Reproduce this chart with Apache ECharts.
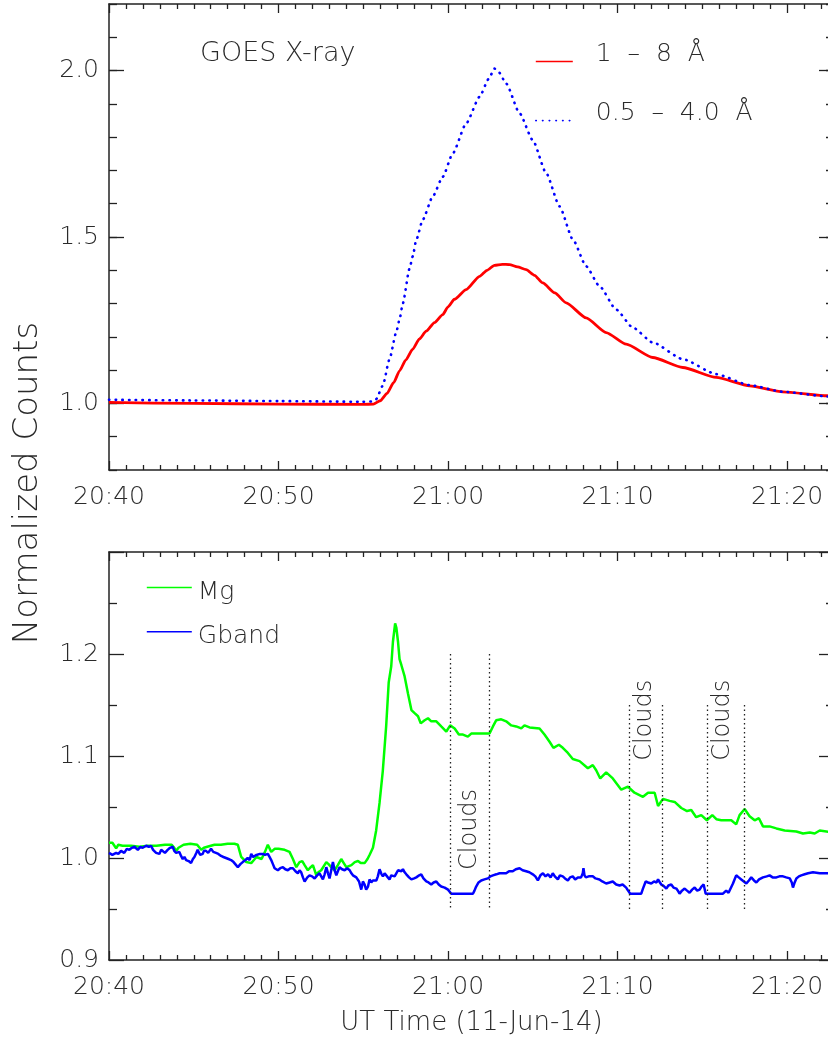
<!DOCTYPE html>
<html>
<head>
<meta charset="utf-8">
<script src="https://cdn.jsdelivr.net/npm/echarts@6/dist/echarts.min.js"></script>
<style>
html,body{margin:0;padding:0;background:#fff;}
#chart{width:828px;height:1040px;}
</style>
</head>
<body>
<div id="chart"></div>
<script>
// ---------- DATA (time in minutes after 20:00 UT) ----------
const xTickLabels = ['20:40', '20:50', '21:00', '21:10', '21:20'];
const topYTickLabels = [1.0, 1.5, 2.0];
const botYTickLabels = [0.9, 1.0, 1.1, 1.2];

// GOES 1-8 A
const goesLongTime = [40, 45, 50, 55, 55.6, 56.0, 56.4, 56.8, 57.14, 57.5, 57.92, 58.3, 58.71, 59.2, 59.69, 60.0, 60.38, 61.07, 61.86, 62.3, 62.74, 63.2, 63.63, 64.1, 64.61, 65.1, 65.59, 66.3, 66.97, 68.15, 69.33, 70.51, 72.08, 73.85, 75.82, 77.79, 79.75, 82.4, 82.77];
const goesLongValues = [1.003, 1.000, 0.998, 0.997, 0.998, 1.008, 1.030, 1.063, 1.098, 1.130, 1.163, 1.193, 1.217, 1.243, 1.267, 1.290, 1.313, 1.342, 1.382, 1.400, 1.415, 1.418, 1.417, 1.410, 1.402, 1.385, 1.362, 1.332, 1.302, 1.257, 1.213, 1.178, 1.138, 1.108, 1.078, 1.053, 1.035, 1.023, 1.022];

// GOES 0.5-4.0 A
const goesShortTime = [40, 45, 50, 55, 55.5, 55.76, 56.15, 56.55, 56.94, 57.14, 57.33, 57.73, 57.92, 58.12, 58.51, 59.10, 59.69, 60.28, 61.07, 61.86, 62.4, 62.74, 63.0, 63.43, 64.22, 65.0, 65.79, 66.58, 67.36, 68.15, 68.94, 69.92, 70.90, 72.08, 73.85, 75.82, 77.79, 79.75, 82.39, 82.77];
const goesShortValues = [1.011, 1.009, 1.007, 1.005, 1.006, 1.013, 1.053, 1.133, 1.213, 1.252, 1.300, 1.405, 1.442, 1.490, 1.552, 1.622, 1.681, 1.751, 1.841, 1.921, 1.975, 2.006, 1.995, 1.961, 1.872, 1.791, 1.692, 1.592, 1.493, 1.412, 1.352, 1.282, 1.228, 1.183, 1.133, 1.088, 1.055, 1.035, 1.021, 1.020];

// Mg
const mgTime = [40.0, 40.2, 40.42, 40.55, 40.8, 41.3, 41.8, 42.3, 42.8, 43.3, 43.7, 43.85, 43.96, 44.1, 44.4, 44.8, 45.2, 45.44, 45.6, 45.8, 46.22, 46.6, 47.0, 47.4, 47.6, 47.7, 47.8, 48.1, 48.39, 48.55, 48.7, 49.0, 49.2, 49.37, 49.57, 49.77, 50.0, 50.36, 50.65, 50.85, 51.05, 51.24, 51.4, 51.54, 51.73, 51.9, 52.03, 52.23, 52.35, 52.52, 52.82, 52.95, 53.11, 53.31, 53.5, 53.7, 53.85, 54.0, 54.3, 54.5, 54.69, 54.85, 55.08, 55.25, 55.37, 55.57, 55.76, 55.96, 56.15, 56.35, 56.5, 56.65, 56.75, 56.88, 56.95, 57.05, 57.14, 57.25, 57.44, 57.64, 57.84, 58.03, 58.23, 58.39, 58.62, 58.82, 59.01, 59.31, 59.6, 59.9, 60.13, 60.39, 60.64, 60.88, 61.17, 61.37, 62.45, 62.65, 62.84, 63.14, 63.43, 63.73, 64.02, 64.32, 64.51, 64.81, 65.4, 65.69, 65.99, 66.22, 66.54, 66.77, 67.07, 67.36, 67.76, 68.25, 68.54, 68.74, 68.98, 69.33, 69.72, 70.22, 70.61, 71.0, 71.5, 71.8, 72.19, 72.39, 72.68, 73.07, 73.37, 73.76, 74.1, 74.35, 74.64, 74.94, 75.27, 75.59, 75.83, 76.12, 76.71, 77.0, 77.2, 77.5, 77.79, 78.09, 78.34, 78.58, 78.97, 79.37, 79.86, 80.55, 80.94, 81.34, 81.63, 81.93, 82.77];
const mgValues = [1.015, 1.015, 1.0095, 1.013, 1.012, 1.012, 1.011, 1.012, 1.012, 1.013, 1.013, 1.010, 1.007, 1.010, 1.013, 1.014, 1.013, 1.008, 1.010, 1.011, 1.013, 1.013, 1.014, 1.014, 1.013, 1.007, 1.001, 0.996, 0.995, 0.998, 1.001, 0.999, 1.006, 1.013, 1.006, 1.009, 1.009, 1.008, 1.006, 0.999, 0.991, 0.996, 0.997, 0.993, 0.988, 0.991, 0.993, 0.983, 0.986, 0.988, 0.996, 0.994, 0.991, 0.988, 0.993, 0.999, 0.995, 0.991, 0.993, 0.996, 0.997, 0.995, 0.995, 0.999, 1.003, 1.010, 1.027, 1.054, 1.085, 1.129, 1.172, 1.188, 1.212, 1.230, 1.226, 1.212, 1.195, 1.189, 1.178, 1.161, 1.145, 1.142, 1.139, 1.132, 1.135, 1.137, 1.134, 1.134, 1.129, 1.124, 1.130, 1.127, 1.121, 1.121, 1.119, 1.122, 1.122, 1.129, 1.135, 1.136, 1.134, 1.130, 1.129, 1.127, 1.130, 1.128, 1.127, 1.121, 1.114, 1.108, 1.111, 1.108, 1.103, 1.097, 1.095, 1.088, 1.091, 1.086, 1.078, 1.084, 1.078, 1.067, 1.070, 1.064, 1.060, 1.064, 1.064, 1.051, 1.058, 1.056, 1.055, 1.049, 1.046, 1.047, 1.040, 1.042, 1.037, 1.042, 1.038, 1.037, 1.037, 1.033, 1.042, 1.048, 1.041, 1.037, 1.039, 1.031, 1.031, 1.029, 1.027, 1.026, 1.024, 1.025, 1.024, 1.027, 1.025];

// Gband
const gbandTime = [40.0, 40.2, 40.42, 40.55, 40.71, 40.9, 41.05, 41.2, 41.35, 41.5, 41.7, 41.85, 41.99, 42.19, 42.35, 42.48, 42.6, 42.78, 42.97, 43.08, 43.17, 43.3, 43.46, 43.6, 43.76, 43.85, 43.96, 44.15, 44.25, 44.35, 44.45, 44.55, 44.7, 44.84, 44.95, 45.04, 45.15, 45.23, 45.38, 45.53, 45.6, 45.72, 45.85, 46.02, 46.15, 46.31, 46.45, 46.61, 46.75, 46.9, 47.05, 47.2, 47.35, 47.5, 47.6, 47.75, 47.89, 48.05, 48.18, 48.3, 48.39, 48.5, 48.58, 48.7, 48.78, 48.9, 49.07, 49.2, 49.37, 49.47, 49.57, 49.67, 49.77, 49.87, 49.96, 50.1, 50.26, 50.4, 50.55, 50.7, 50.85, 51.0, 51.14, 51.24, 51.34, 51.44, 51.54, 51.7, 51.83, 51.98, 52.13, 52.28, 52.42, 52.52, 52.62, 52.72, 52.82, 52.92, 53.01, 53.11, 53.21, 53.31, 53.41, 53.5, 53.6, 53.75, 53.9, 54.05, 54.2, 54.3, 54.39, 54.5, 54.59, 54.75, 54.88, 54.98, 55.08, 55.17, 55.28, 55.37, 55.47, 55.57, 55.67, 55.77, 55.86, 55.96, 56.0, 56.08, 56.16, 56.26, 56.36, 56.45, 56.55, 56.65, 56.75, 56.85, 56.95, 57.05, 57.15, 57.25, 57.34, 57.44, 57.54, 57.7, 57.84, 58.0, 58.13, 58.3, 58.42, 58.55, 58.72, 58.85, 59.01, 59.15, 59.31, 59.45, 59.6, 59.8, 60.0, 60.19, 61.47, 61.56, 61.66, 61.8, 61.96, 62.15, 62.35, 62.5, 62.65, 62.85, 63.04, 63.25, 63.43, 63.6, 63.82, 64.0, 64.22, 64.4, 64.61, 64.8, 65.0, 65.15, 65.3, 65.45, 65.6, 65.75, 65.9, 66.05, 66.18, 66.3, 66.48, 66.6, 66.77, 66.9, 67.07, 67.2, 67.36, 67.5, 67.66, 67.85, 67.95, 67.99, 68.05, 68.13, 68.3, 68.54, 68.7, 68.93, 69.1, 69.33, 69.53, 69.72, 69.92, 70.12, 70.3, 70.51, 70.62, 70.75, 71.4, 71.5, 71.66, 71.8, 71.99, 72.15, 72.3, 72.39, 72.5, 72.58, 72.7, 72.88, 73.0, 73.17, 73.3, 73.47, 73.56, 73.66, 73.8, 73.96, 74.1, 74.25, 74.4, 74.55, 74.7, 74.84, 74.95, 75.08, 75.2, 76.22, 76.3, 76.41, 76.55, 76.65, 76.81, 77.0, 77.15, 77.3, 77.45, 77.6, 77.75, 77.89, 78.05, 78.19, 78.35, 78.58, 78.8, 78.97, 79.15, 79.37, 79.55, 79.76, 79.95, 80.16, 80.28, 80.35, 80.45, 80.55, 80.7, 80.84, 81.04, 81.24, 81.53, 81.93, 82.2, 82.77];
const gbandValues = [1.005, 1.003, 1.005, 1.004, 1.007, 1.005, 1.009, 1.008, 1.010, 1.011, 1.008, 1.011, 1.010, 1.012, 1.011, 1.012, 1.008, 1.005, 1.004, 1.008, 1.009, 1.005, 1.008, 1.010, 1.011, 1.007, 1.005, 1.006, 1.002, 0.999, 1.001, 0.998, 0.997, 0.995, 0.999, 1.001, 1.005, 1.008, 1.003, 1.004, 1.007, 1.007, 1.005, 1.009, 1.006, 1.005, 1.004, 1.002, 1.001, 1.000, 0.999, 0.998, 0.996, 0.993, 0.991, 0.994, 0.996, 0.998, 1.000, 0.998, 1.004, 1.001, 1.000, 1.003, 1.004, 1.004, 1.004, 1.003, 1.004, 1.001, 0.998, 0.994, 0.990, 0.991, 0.988, 0.990, 0.991, 0.989, 0.988, 0.990, 0.990, 0.987, 0.985, 0.988, 0.986, 0.981, 0.977, 0.981, 0.983, 0.982, 0.980, 0.983, 0.985, 0.982, 0.979, 0.984, 0.991, 0.985, 0.980, 0.988, 0.996, 0.988, 0.983, 0.987, 0.991, 0.989, 0.988, 0.990, 0.988, 0.985, 0.983, 0.984, 0.981, 0.977, 0.969, 0.977, 0.974, 0.969, 0.972, 0.979, 0.976, 0.978, 0.977, 0.978, 0.982, 0.989, 0.990, 0.984, 0.982, 0.985, 0.986, 0.981, 0.979, 0.983, 0.984, 0.982, 0.985, 0.988, 0.989, 0.987, 0.989, 0.986, 0.984, 0.981, 0.979, 0.980, 0.981, 0.983, 0.984, 0.980, 0.977, 0.976, 0.974, 0.976, 0.977, 0.974, 0.972, 0.971, 0.969, 0.965, 0.965, 0.968, 0.972, 0.976, 0.978, 0.979, 0.980, 0.982, 0.983, 0.984, 0.985, 0.985, 0.985, 0.987, 0.987, 0.989, 0.990, 0.988, 0.987, 0.986, 0.984, 0.982, 0.978, 0.983, 0.985, 0.982, 0.984, 0.981, 0.985, 0.982, 0.979, 0.983, 0.982, 0.980, 0.978, 0.981, 0.982, 0.979, 0.981, 0.981, 0.985, 0.990, 0.983, 0.981, 0.982, 0.982, 0.980, 0.979, 0.977, 0.975, 0.976, 0.977, 0.974, 0.973, 0.974, 0.971, 0.968, 0.965, 0.965, 0.970, 0.977, 0.976, 0.975, 0.977, 0.976, 0.979, 0.976, 0.974, 0.973, 0.970, 0.973, 0.974, 0.971, 0.970, 0.968, 0.965, 0.968, 0.970, 0.968, 0.966, 0.969, 0.971, 0.968, 0.969, 0.972, 0.974, 0.965, 0.965, 0.966, 0.968, 0.966, 0.965, 0.975, 0.983, 0.981, 0.979, 0.977, 0.975, 0.978, 0.981, 0.978, 0.976, 0.979, 0.981, 0.982, 0.983, 0.981, 0.981, 0.982, 0.982, 0.981, 0.980, 0.976, 0.971, 0.976, 0.980, 0.982, 0.983, 0.984, 0.985, 0.986, 0.985, 0.985, 0.985];

// Cloud intervals (dotted markers) and labels
const cloudLineX = [60.13, 62.45, 70.71, 72.64, 75.27, 77.45];
const cloudLineTop = [1.2, 1.2, 1.15, 1.15, 1.15, 1.15];
const cloudLineBottom = 0.95;
const cloudLabelX = [61.3, 71.6, 76.2];
const cloudLabelY = [1.028, 1.135, 1.135];

// ---------- helpers ----------
const pairs = (xs, ys) => xs.map((x, i) => [x, ys[i]]);
const FONT = 'DejaVu Sans';
const FW = 200;
const TXT = '#2a2a2a';
const AX = '#222';
const fmtTime = v => {
  const h = 20 + Math.floor(v / 60);
  const m = Math.round(v % 60);
  const s = h + ':' + String(m).padStart(2, '0');
  return xTickLabels.indexOf(s) >= 0 ? s : '';
};
const X_MIN = 40, X_MAX = 82.77;
const NAME_LONG = '1  –  8  Å';
const NAME_SHORT = '0.5  –  4.0  Å';

function xAxisDef(gridIndex, position, showLabel, name) {
  const a = {
    type: 'value', gridIndex, position, min: X_MIN, max: X_MAX, interval: 10,
    axisLine: { show: true, onZero: false, lineStyle: { color: AX, width: 1.5 } },
    axisTick: { show: true, inside: true, length: 9, lineStyle: { color: AX, width: 1.3 } },
    minorTick: { show: true, splitNumber: 10, length: 5, lineStyle: { color: AX, width: 1.3 } },
    splitLine: { show: false },
    axisLabel: { show: showLabel, formatter: fmtTime, showMaxLabel: false, margin: 15,
      color: TXT, fontSize: 25, fontFamily: FONT, fontWeight: FW }
  };
  if (name) {
    a.name = name; a.nameLocation = 'middle'; a.nameGap = 50;
    a.nameTextStyle = { color: TXT, fontSize: 26, fontFamily: FONT, fontWeight: FW };
  }
  return a;
}

const topMajor = topYTickLabels;
function yTopMinor(position) {
  return {
    type: 'value', gridIndex: 0, position, min: 0.8, max: 2.2, interval: 0.1,
    axisLine: { show: true, onZero: false, lineStyle: { color: AX, width: 1.5 } },
    axisTick: { show: true, inside: true, length: 8, lineStyle: { color: AX, width: 1.3 } },
    splitLine: { show: false },
    axisLabel: { show: false }
  };
}
function yTopMajor(position, showLabel) {
  return {
    type: 'value', gridIndex: 0, position, min: 0.8, max: 2.2,
    axisLine: { show: false },
    axisTick: { show: true, inside: true, length: 15, customValues: topMajor, lineStyle: { color: AX, width: 1.3 } },
    splitLine: { show: false },
    axisLabel: { show: showLabel, customValues: topMajor, formatter: v => v.toFixed(1), margin: 10,
      color: TXT, fontSize: 25, fontFamily: FONT, fontWeight: FW }
  };
}
function yBot(position, showLabel) {
  return {
    type: 'value', gridIndex: 1, position, min: 0.9, max: 1.3, interval: 0.1,
    axisLine: { show: true, onZero: false, lineStyle: { color: AX, width: 1.5 } },
    axisTick: { show: true, inside: true, length: 15, lineStyle: { color: AX, width: 1.3 } },
    minorTick: { show: true, splitNumber: 2, length: 8, lineStyle: { color: AX, width: 1.3 } },
    splitLine: { show: false },
    axisLabel: { show: showLabel, showMaxLabel: false, margin: 10,
      formatter: v => (botYTickLabels.some(t => Math.abs(t - v) < 1e-6) ? v.toFixed(1) : ''),
      color: TXT, fontSize: 25, fontFamily: FONT, fontWeight: FW }
  };
}
const legendText = pad => ({
  color: TXT, fontSize: 25, fontFamily: FONT, fontWeight: FW,
  rich: { t: { color: TXT, fontSize: 25, fontFamily: FONT, fontWeight: FW, padding: pad } }
});

const chart = echarts.init(document.getElementById('chart'), null, { renderer: 'canvas' });
const option = {
  animation: false,
  backgroundColor: '#fff',
  grid: [
    { left: 109, top: 4, width: 725, height: 466, outerBoundsMode: 'none', containLabel: false },
    { left: 109, top: 552, width: 725, height: 408, outerBoundsMode: 'none', containLabel: false }
  ],
  xAxis: [
    xAxisDef(0, 'bottom', true),
    xAxisDef(0, 'top', false),
    xAxisDef(1, 'bottom', true, 'UT Time (11-Jun-14)'),
    xAxisDef(1, 'top', false)
  ],
  yAxis: [
    yTopMinor('left'),
    yTopMajor('left', true),
    yTopMinor('right'),
    yTopMajor('right', false),
    yBot('left', true),
    yBot('right', false)
  ],
  legend: [
    {
      data: [NAME_LONG, NAME_SHORT],
      orient: 'vertical', left: 530, top: 37, itemWidth: 37, itemHeight: 14, itemGap: 34,
      selectedMode: false,
      formatter: n => '{t|' + n + '}',
      lineStyle: { width: 1.6 },
      itemStyle: { opacity: 0, color: 'rgba(0,0,0,0)', borderWidth: 0 },
      textStyle: legendText([0, 0, 14, 18])
    },
    {
      data: ['Mg', 'Gband'],
      orient: 'vertical', left: 141, top: 575, itemWidth: 45, itemHeight: 14, itemGap: 19.2,
      selectedMode: false,
      formatter: n => '{t|' + n + '}',
      lineStyle: { width: 1.6 },
      itemStyle: { opacity: 0, color: 'rgba(0,0,0,0)', borderWidth: 0 },
      textStyle: legendText([10, 0, 0, 1])
    }
  ],
  graphic: [
    { type: 'text', x: 200, y: 54, style: { text: 'GOES X-ray', fill: TXT, fontSize: 27, fontFamily: FONT, fontWeight: FW, verticalAlign: 'middle' } },
    { type: 'text', x: 28, y: 483, rotation: Math.PI / 2, style: { text: 'Normalized Counts', fill: TXT, fontSize: 34, fontFamily: FONT, fontWeight: FW, align: 'center', verticalAlign: 'middle' } }
  ],
  series: [
    {
      name: NAME_LONG, type: 'line', xAxisIndex: 0, yAxisIndex: 0,
      data: pairs(goesLongTime, goesLongValues), symbol: 'none', showSymbol: false,
      smooth: 0.2, smoothMonotone: 'x',
      lineStyle: { color: '#ff0000', width: 2.8 }, itemStyle: { color: '#ff0000' }
    },
    {
      name: NAME_SHORT, type: 'line', xAxisIndex: 0, yAxisIndex: 0,
      data: pairs(goesShortTime, goesShortValues), symbol: 'none', showSymbol: false,
      smooth: 0.2, smoothMonotone: 'x',
      lineStyle: { color: '#0000ff', width: 2.6, type: [0.5, 6.2], cap: 'round' }, itemStyle: { color: '#0000ff' }
    },
    {
      name: 'Mg', type: 'line', xAxisIndex: 2, yAxisIndex: 4,
      data: pairs(mgTime, mgValues), symbol: 'none', showSymbol: false,
      lineStyle: { color: '#00ff00', width: 2.5 }, itemStyle: { color: '#00ff00' }
    },
    {
      name: 'Gband', type: 'line', xAxisIndex: 2, yAxisIndex: 4,
      data: pairs(gbandTime, gbandValues), symbol: 'none', showSymbol: false,
      lineStyle: { color: '#0000ff', width: 2.5 }, itemStyle: { color: '#0000ff' }
    },
    {
      name: 'clouds', type: 'scatter', xAxisIndex: 2, yAxisIndex: 4, silent: true,
      data: pairs(cloudLabelX, cloudLabelY), symbolSize: 0.1,
      itemStyle: { color: TXT, opacity: 1 },
      label: { show: true, formatter: 'Clouds', rotate: 90, position: 'inside',
        color: TXT, opacity: 1, textBorderWidth: 0,
        fontSize: 24, fontFamily: FONT, fontWeight: FW },
      emphasis: { disabled: true },
      markLine: {
        silent: true, symbol: ['none', 'none'], label: { show: false },
        lineStyle: { color: '#222', width: 1.3, type: [1.5, 3] },
        emphasis: { disabled: true },
        data: cloudLineX.map((x, i) => [{ coord: [x, cloudLineTop[i]] }, { coord: [x, cloudLineBottom] }])
      }
    }
  ]
};
chart.setOption(option);
</script>
</body>
</html>
